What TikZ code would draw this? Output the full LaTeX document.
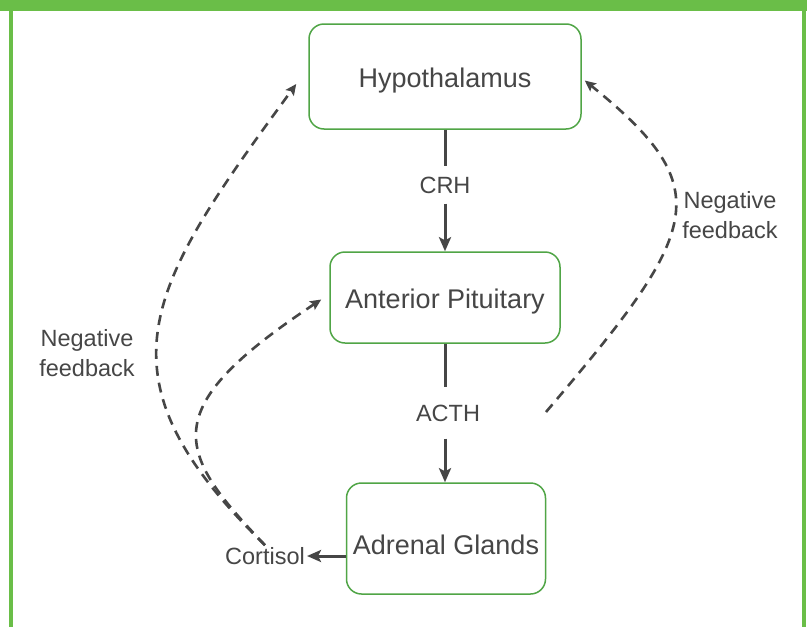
\documentclass[tikz,border=0pt]{standalone}
\RequirePackage{fontspec}
\setmainfont{Liberation Sans}
\RequirePackage{tikz}
\usetikzlibrary{calc}
\usetikzlibrary{arrows.meta}
\definecolor{framegreen}{RGB}{106,190,72}
\definecolor{boxgreen}{RGB}{80,165,70}
\definecolor{inkgray}{RGB}{70,70,70}

\begin{document}
\begin{tikzpicture}[x=1pt,y=-1pt,
        gland/.style={draw=boxgreen,line width=1.5pt,rounded corners=15pt,fill=white,text=inkgray,
            font=\fontsize{27}{32}\selectfont,text height=27.4pt,text depth=5pt,inner sep=0pt},
        hormone/.style={text=inkgray,font=\fontsize{23.5}{30}\selectfont,inner sep=2pt,fill=white},
        axisline/.style={draw=inkgray,line width=3pt},
        signal/.style={axisline,-{Stealth[length=14pt,width=12pt,inset=3pt]}},
        feedback/.style={draw=inkgray,line width=2.6pt,dash pattern=on 10pt off 7pt,
            -{Stealth[length=11pt,width=10pt,inset=2pt]}}]
                \fill[white] (0,0) rectangle (807,627);
                \useasboundingbox (0,0) rectangle (807,627);

                \fill[framegreen] (0,0) rectangle (807,11);
                \draw[framegreen,line width=4pt] (11,0) -- (11,627);
                \draw[framegreen,line width=4pt] (804,0) -- (804,627);

                \node[gland,minimum width=272pt,minimum height=105pt] (hyp) at (445,76.5) {Hypothalamus};
                \node[gland,minimum width=230pt,minimum height=91pt] (ant) at (445,297.5) {Anterior Pituitary};
                \node[gland,minimum width=199pt,minimum height=111pt,text height=36.4pt] (adr) at (446,538.5) {Adrenal Glands};

                \node[hormone,inner ysep=10pt] (crh) at (445,185) {CRH};
                \node[hormone,inner ysep=17pt] (acth) at (448,413) {ACTH};
                \node[hormone] (cort) at (265,556) {Cortisol};

                \node[hormone,fill=none,align=center] (fbleft) at (87,353) {Negative\\feedback};
                \node[hormone,fill=none,align=center] (fbright) at (730,215) {Negative\\feedback};
                \coordinate (fbtail) at (546,412);

                \draw[axisline] (hyp) -- (crh);
                \draw[signal] (crh) -- (ant);
                \draw[axisline] (ant.south) -- (ant.south |- acth.north);
                \draw[signal] (acth.south -| ant.south) -- (ant.south |- adr.north);
                \draw[signal] (adr.west |- cort) -- (cort);

                \draw[feedback] (cort.north) .. controls +(-175,-171) and +(-150,205) .. ($(hyp.west)+(-12,7.5)$);
                \draw[feedback] (cort.north) .. controls +(-90,-94) and +(-166,110) .. ($(ant.west)+(-8,2)$);
                \draw[feedback] (fbtail) .. controls +(155,-182) and +(135,109) .. ($(hyp.east)+(3,4)$);
            \end{tikzpicture}
\end{document}
